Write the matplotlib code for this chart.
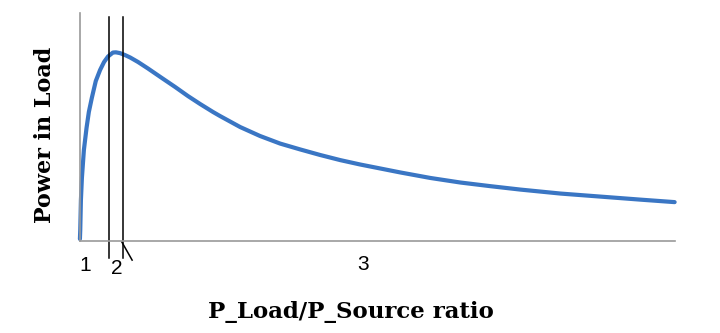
import matplotlib.pyplot as plt

# curve (ratio, relative power)
ratio = [0.00, 0.01, 0.03, 0.06, 0.12, 0.20, 0.27, 0.36, 0.48, 0.61, 0.73, 0.85,
         1.00, 1.09, 1.21, 1.36, 1.52, 1.76, 2.06, 2.48, 2.88, 3.27, 3.64, 4.03,
         4.24, 4.85, 5.45, 6.06, 6.67, 7.27, 7.88, 8.48, 9.09, 9.70, 10.61, 11.52,
         12.42, 13.33, 14.55, 15.76, 16.97, 18.0]
power = [0.011, 0.058, 0.216, 0.332, 0.479, 0.595, 0.679, 0.753, 0.842, 0.900,
         0.942, 0.971, 0.992, 0.993, 0.989, 0.979, 0.966, 0.942, 0.908, 0.858,
         0.811, 0.763, 0.721, 0.679, 0.658, 0.600, 0.553, 0.513, 0.482, 0.453,
         0.426, 0.403, 0.382, 0.361, 0.332, 0.308, 0.289, 0.271, 0.250, 0.234,
         0.218, 0.205]

marker_x = [0.88, 1.29]
region_labels = ["1", "2", "3"]
region_label_x = [0.15, 1.12, 8.58]
region_label_y = [-0.13, -0.145, -0.124]

fig = plt.figure(figsize=(7.2, 3.33), dpi=100)
ax = fig.add_axes([0.111, 0.276, 0.826, 0.685])

ax.plot(ratio, power, color="#3a76c4", lw=3, solid_joinstyle="round",
        solid_capstyle="round", clip_on=False)

for xm in marker_x:
    ax.plot([xm, xm], [-0.09, 1.18], color="black", lw=1.1, clip_on=False)
ax.plot([1.27, 1.58], [-0.005, -0.1], color="black", lw=1.1, clip_on=False)

for lab, lx, ly in zip(region_labels, region_label_x, region_label_y):
    ax.text(lx, ly, lab, ha="center", va="center", fontsize=15,
            family="Liberation Sans", clip_on=False)

ax.set_xlim(0, 18)
ax.set_ylim(0, 1.2)
ax.set_xticks([])
ax.set_yticks([])
for s in ["top", "right"]:
    ax.spines[s].set_visible(False)
for s in ["left", "bottom"]:
    ax.spines[s].set_color("#9a9a9a")
    ax.spines[s].set_linewidth(1.2)

fig.text(0.4875, 0.063, "P_Load/P_Source ratio", ha="center", va="center",
         fontsize=16.5, fontweight="bold", family="DejaVu Serif")
fig.text(0.0625, 0.595, "Power in Load", ha="center", va="center", rotation=90,
         fontsize=16, fontweight="bold", family="DejaVu Serif")

fig.savefig("out.png", dpi=100, facecolor="white")
